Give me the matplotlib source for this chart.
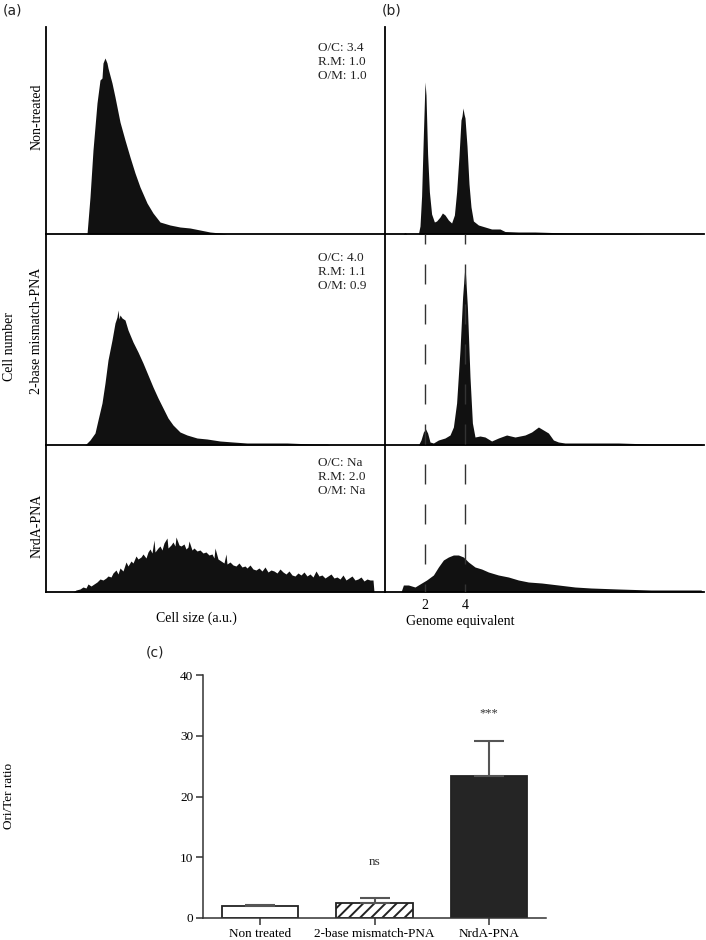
import matplotlib.pyplot as plt
import numpy as np

plt.rcParams['font.family'] = ['Liberation Serif', 'DejaVu Serif']
plt.rcParams['hatch.linewidth'] = 1.4

W, H = 706, 940

# ---- (a) cell size histograms: channel (a.u.) vs cell count ----
size_nt_x = [41, 44, 47, 51, 54, 56, 57, 59, 61, 62, 66, 69, 74, 79, 84, 89, 94,
             101, 107, 114, 124, 134, 144, 154, 164, 174, 181]
size_nt_y = [0, 37, 84, 131, 154, 156, 171, 176, 171, 166, 151, 137, 112, 94, 77, 61, 47,
             31, 21, 12, 9, 7, 6, 4, 2, 1, 0]

size_mm_x = [39, 44, 49, 52, 56, 59, 62, 66, 69, 71, 72, 73, 74, 76, 79, 82, 87, 92, 97,
             102, 107, 112, 117, 122, 127, 134, 141, 151, 161, 174, 187, 201, 221, 241,
             267, 281, 284]
size_mm_y = [0, 5, 12, 25, 42, 62, 85, 105, 122, 128, 135, 126, 130, 127, 125, 115, 103, 93, 82,
             70, 58, 47, 37, 27, 20, 13, 10, 7, 6, 4, 3, 2, 2, 2,
             1, 1, 0]

size_nrda_x = [27, 30, 34, 37, 40, 42, 45, 48, 51, 54,
               57, 60, 62, 65, 67, 70, 72, 74, 77, 80,
               82, 85, 87, 90, 92, 95, 97, 100, 102, 104,
               106, 108, 109, 112, 114, 116, 118, 121, 122, 125,
               127, 129, 130, 133, 135, 138, 140, 142, 143, 146,
               148, 151, 154, 157, 160, 163, 166, 168, 169, 172,
               175, 178, 180, 181, 184, 187, 190, 193, 196, 199,
               201, 204, 207, 210, 213, 216, 219, 222, 225, 228,
               231, 234, 237, 240, 243, 246, 249, 252, 255, 258,
               261, 264, 267, 270, 273, 276, 279, 282, 285, 288,
               291, 294, 297, 300, 303, 306, 309, 312, 315, 318,
               321, 324, 327, 328]
size_nrda_y = [0, 2, 3, 5, 4, 8, 6, 8, 10, 13,
               12, 14, 16, 15, 19, 22, 18, 24, 21, 30,
               26, 31, 29, 36, 33, 35, 38, 34, 40, 43,
               39, 52, 40, 44, 46, 42, 49, 54, 44, 47,
               50, 46, 55, 47, 46, 48, 43, 45, 51, 42,
               44, 41, 42, 39, 40, 37, 38, 34, 44, 33,
               31, 29, 38, 28, 30, 27, 26, 29, 25, 26,
               24, 27, 23, 22, 24, 21, 25, 20, 22, 21,
               19, 23, 20, 18, 21, 17, 16, 19, 17, 20,
               16, 18, 15, 21, 16, 17, 14, 16, 18, 14,
               15, 13, 17, 12, 14, 16, 12, 13, 15, 11,
               13, 12, 12, 0]

# ---- (b) DNA content histograms: genome equivalents vs cell count ----
dna_nt_x = [0.9, 1.0, 1.1, 1.67, 1.75, 1.83, 1.92, 2.0, 2.05, 2.13, 2.22, 2.33, 2.47, 2.58,
            2.75, 2.87, 3.0, 3.17, 3.33, 3.47, 3.58, 3.7, 3.8, 3.85, 3.9, 3.95, 4.0, 4.1,
            4.2, 4.3, 4.42, 4.67, 5.0, 5.33, 5.75, 6.0, 6.67, 7.5, 8.33, 9.17, 10.0, 10.8,
            12.5, 13.0]
dna_nt_y = [0, 1.5, 0, 0, 8, 38, 100, 152, 139, 80, 42, 20, 12, 13,
            17, 21, 19, 14, 11, 19, 42, 78, 114, 118, 126, 120, 116, 88,
            50, 27, 13, 9, 7, 5, 5, 2.5, 2, 2, 1.5, 1, 0.8, 0.8,
            0.5, 0]

dna_mm_x = [1.67, 1.8, 1.92, 2.03, 2.13, 2.25, 2.42, 2.67, 3.0, 3.25, 3.42, 3.58, 3.75,
            3.88, 4.0, 4.12, 4.25, 4.37, 4.5, 4.75, 5.0, 5.33, 5.67, 6.08, 6.5, 7.0,
            7.33, 7.67, 7.92, 8.17, 8.42, 8.67, 9.0, 10.0, 11.67, 13.3, 15.8, 15.9]
dna_mm_y = [0, 5, 13, 16, 12, 3, 2, 5, 7, 10, 18, 42, 95,
            148, 180, 138, 68, 22, 8, 9, 8, 4, 7, 10, 8, 10,
            13, 18, 15, 12, 5, 3, 2, 2, 2, 1, 1, 0]

dna_nrda_x = [0.8, 0.92, 1.17, 1.5, 1.83, 2.08, 2.42, 2.67, 2.92, 3.17, 3.42, 3.67, 3.92,
              4.17, 4.5, 4.83, 5.17, 5.67, 6.17, 6.67, 7.17, 7.83, 8.67, 9.5, 10.3,
              11.67, 13.3, 15.8, 15.9]
dna_nrda_y = [0, 7, 7, 5, 9, 12, 17, 25, 32, 35, 37, 37, 35,
              30, 25, 23, 20, 17, 15, 12, 10, 9, 7, 5, 4,
              3, 2, 2, 0]

row_names = ['Non-treated', '2-base mismatch-PNA', 'NrdA-PNA']
row_stats = ['O/C: 3.4\nR.M: 1.0\nO/M: 1.0',
             'O/C: 4.0\nR.M: 1.1\nO/M: 0.9',
             'O/C: Na\nR.M: 2.0\nO/M: Na']
genome_marks = [2, 4]

# ---- (c) Ori/Ter ratio ----
groups = ['Non treated', '2-base mismatch-PNA', 'NrdA-PNA']
ratio = [1.9, 2.5, 23.4]
ratio_err = [0.2, 0.8, 5.8]
signif = ['', 'ns', '***']


def box(l, t, r, b):
    return [l / W, 1 - b / H, (r - l) / W, (b - t) / H]


def hist_style(ax):
    for s in ['top', 'right']:
        ax.spines[s].set_visible(False)
    for s in ['left', 'bottom']:
        ax.spines[s].set_linewidth(1.3)
        ax.spines[s].set_color('black')
    ax.set_xticks([])
    ax.set_yticks([])
    ax.patch.set_alpha(0)


fig = plt.figure(figsize=(W / 100, H / 100), dpi=100)

rows = [(27, 234), (234, 445), (445, 592)]
size_data = [(size_nt_x, size_nt_y), (size_mm_x, size_mm_y), (size_nrda_x, size_nrda_y)]
dna_data = [(dna_nt_x, dna_nt_y), (dna_mm_x, dna_mm_y), (dna_nrda_x, dna_nrda_y)]
centers = [117, 331, 526]
stat_y = [62, 272, 477]

for i, (top, bot) in enumerate(rows):
    axa = fig.add_axes(box(46, top, 385, bot))
    xs, ys = size_data[i]
    axa.fill_between(xs, ys, 0, color='#111111', lw=0)
    axa.set_xlim(0, 339)
    axa.set_ylim(0, bot - top)
    hist_style(axa)
    fig.text(318 / W, 1 - stat_y[i] / H, row_stats[i],
             fontsize=9.5, va='center', ha='left', linespacing=1.25, color='#222222')
    fig.text(37 / W, 1 - centers[i] / H, row_names[i], rotation=90, fontsize=10,
             ha='center', va='center')

    axb = fig.add_axes(box(385, top, 704, bot))
    xs, ys = dna_data[i]
    axb.fill_between(xs, ys, 0, color='#111111', lw=0)
    axb.set_xlim(0, 15.95)
    axb.set_ylim(0, bot - top)
    hist_style(axb)
    if i == 2:
        axb.set_xticks(genome_marks)
        axb.set_xticklabels([str(g) for g in genome_marks], fontsize=10)
        axb.tick_params(axis='x', length=0, pad=5)

# dashed guide lines at 2 and 4 genome equivalents
ov = fig.add_axes(box(385, 234, 704, 592))
ov.set_xlim(0, 15.95)
ov.set_ylim(0, 1)
ov.axis('off')
for g in genome_marks:
    ov.plot([g, g], [1, 0], color='#333333', lw=1.0,
            linestyle=(7.2, (14.4, 14.4)))

fig.text(10 / W, 1 - 347 / H, 'Cell number', rotation=90, fontsize=10,
         ha='center', va='center')
fig.text(196 / W, 1 - 618 / H, 'Cell size (a.u.)', fontsize=10, ha='center', va='center')
fig.text(460 / W, 1 - 622 / H, 'Genome equivalent', fontsize=10, ha='center', va='center')

for lab, (x, y) in zip(['(a)', '(b)', '(c)'], [(13, 11), (392, 11), (155, 653)]):
    fig.text(x / W, 1 - y / H, lab, fontsize=10, family='DejaVu Sans',
             ha='center', va='center', color='#222222')

# ---- bar chart ----
axc = fig.add_axes(box(203, 675, 546, 918))
pos = np.arange(len(groups))
faces = ['white', 'white', '#252525']
hatches = [None, '///', None]
for p, v, fc, hc in zip(pos, ratio, faces, hatches):
    axc.bar(p, v, width=0.667, color=fc, edgecolor='#222222', linewidth=1.3,
            hatch=hc, zorder=2)
axc.errorbar(pos, ratio, yerr=[np.zeros(len(ratio)), ratio_err], fmt='none',
             ecolor='#555555', elinewidth=1.5, capsize=10.8, capthick=1.5, zorder=3)
for p, v, e, s in zip(pos, ratio, ratio_err, signif):
    if s:
        axc.text(p, v + e + 6.0 if s == 'ns' else v + e + 4.5, s, ha='center',
                 va='center', fontsize=9.5 if s == 'ns' else 9, color='#333333')
axc.set_xlim(-0.5, 2.5)
axc.set_ylim(0, 40)
axc.set_yticks([0, 10, 20, 30, 40])
axc.set_xticks(pos)
axc.set_xticklabels(groups, fontsize=9.5)
axc.tick_params(axis='y', labelsize=9.5, length=5, width=1.1, pad=2, color='#333333')
axc.tick_params(axis='x', length=5, width=1.1, pad=2, color='#333333')
for s in ['top', 'right']:
    axc.spines[s].set_visible(False)
for s in ['left', 'bottom']:
    axc.spines[s].set_linewidth(1.1)
    axc.spines[s].set_color('#333333')
fig.text(9 / W, 1 - 796 / H, 'Ori/Ter ratio', rotation=90, fontsize=9.5,
         ha='center', va='center')

fig.savefig('out.png', dpi=100)
